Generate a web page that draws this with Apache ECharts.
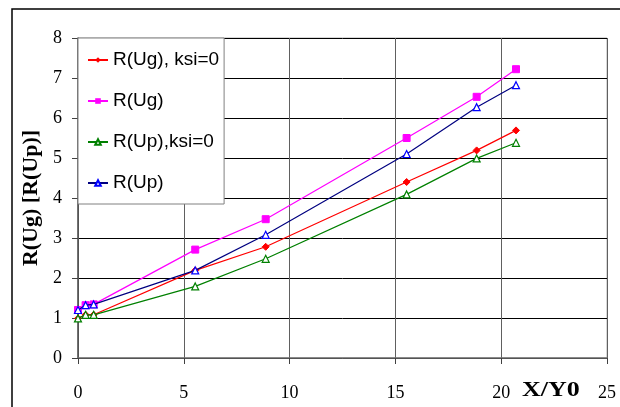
<!DOCTYPE html>
<html>
<head>
<meta charset="utf-8">
<script src="https://cdn.jsdelivr.net/npm/echarts@6/dist/echarts.min.js"></script>
<style>
  html, body { margin: 0; padding: 0; background: #fff; }
  #chart { width: 620px; height: 407px; }
</style>
</head>
<body>
<div id="chart"></div>
<script>
// Relative distance X/Y0 for each measured point
const xValues = [0, 0.36, 0.74, 5.54, 8.87, 15.53, 18.84, 20.7];

// Series values
const rUgKsi0 = [0.99, 1.08, 1.08, 2.19, 2.78, 4.40, 5.19, 5.69];
const rUg     = [1.20, 1.32, 1.34, 2.71, 3.47, 5.50, 6.53, 7.22];
const rUpKsi0 = [0.99, 1.08, 1.08, 1.79, 2.48, 4.09, 4.99, 5.38];
const rUp     = [1.20, 1.32, 1.34, 2.19, 3.08, 5.10, 6.27, 6.82];

const seriesNames = ['R(Ug), ksi=0', 'R(Ug)', 'R(Up),ksi=0', 'R(Up)'];

const pairs = ys => xValues.map((x, i) => [x, ys[i]]);

const chart = echarts.init(document.getElementById('chart'), null, { renderer: 'canvas' });

const serif = '"Liberation Serif", "Times New Roman", serif';
const sans = '"Liberation Sans", Arial, sans-serif';

chart.setOption({
  animation: false,
  backgroundColor: '#fff',
  graphic: [
    {
      type: 'rect',
      shape: { x: 12, y: 9, width: 700, height: 500 },
      style: { fill: 'none', stroke: '#000', lineWidth: 1.5 },
      z: 100
    },
    {
      type: 'text',
      x: 522, y: 381, scaleX: 1.3,
      style: { text: 'X/Y0', font: 'bold 20px ' + serif, fill: '#000' }
    }
  ],
  grid: {
    left: 78, right: 13, top: 38, bottom: 49,
    show: true, borderColor: '#b0b0b0', borderWidth: 1
  },
  legend: {
    orient: 'vertical',
    left: 78, top: 38,
    padding: [12, 5, 11, 9],
    itemGap: 21,
    itemWidth: 20, itemHeight: 7,
    backgroundColor: '#fff',
    borderColor: '#808080', borderWidth: 1,
    textStyle: { fontFamily: sans, fontSize: 19, color: '#000', lineHeight: 20 },
    data: seriesNames
  },
  xAxis: {
    type: 'value', min: 0, max: 25, interval: 5,
    axisLine: { show: true, onZero: false, lineStyle: { color: '#707070', width: 1.5 } },
    axisTick: { show: true, length: 6, lineStyle: { color: '#404040' } },
    axisLabel: { margin: 26, fontFamily: serif, fontSize: 18, color: '#000' },
    splitLine: { show: true, lineStyle: { color: '#606060', width: 1 } }
  },
  yAxis: {
    type: 'value', min: 0, max: 8, interval: 1,
    name: 'R(Ug) [R(Up)]',
    nameLocation: 'middle', nameRotate: 90, nameGap: 34,
    nameTextStyle: { fontFamily: serif, fontSize: 22, fontWeight: 'bold', color: '#000' },
    axisLine: { show: true, lineStyle: { color: '#505050', width: 1.5 } },
    axisTick: { show: true, length: 6, lineStyle: { color: '#404040' } },
    axisLabel: { margin: 16, fontFamily: serif, fontSize: 18, color: '#000' },
    splitLine: { show: true, lineStyle: { color: '#000', width: 1 } }
  },
  series: [
    {
      name: seriesNames[0], type: 'line', data: pairs(rUgKsi0),
      symbol: 'diamond', symbolSize: 7,
      lineStyle: { color: '#ff0000', width: 1.2 },
      itemStyle: { color: '#ff0000', borderColor: '#ff0000' }, z: 3
    },
    {
      name: seriesNames[1], type: 'line', data: pairs(rUg),
      symbol: 'rect', symbolSize: 7,
      lineStyle: { color: '#ff00ff', width: 1.2 },
      itemStyle: { color: '#ff00ff', borderColor: '#ff00ff' }, z: 2
    },
    {
      name: seriesNames[2], type: 'line', data: pairs(rUpKsi0),
      symbol: 'triangle', symbolSize: 7,
      lineStyle: { color: '#008000', width: 1.2 },
      itemStyle: { color: '#fff', borderColor: '#008000', borderWidth: 1.2 }, z: 4
    },
    {
      name: seriesNames[3], type: 'line', data: pairs(rUp),
      symbol: 'triangle', symbolSize: 7,
      lineStyle: { color: '#000080', width: 1.2 },
      itemStyle: { color: '#fff', borderColor: '#0000ff', borderWidth: 1.2 }, z: 5
    }
  ]
});
</script>
</body>
</html>
